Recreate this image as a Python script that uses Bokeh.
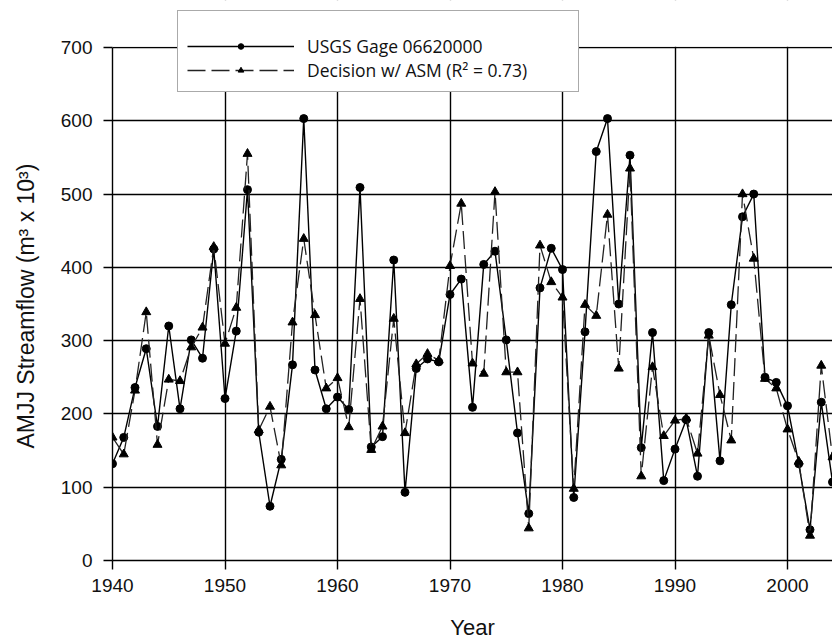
from bokeh.plotting import figure
from bokeh.models import (Range1d, Legend, LegendItem, SingleIntervalTicker,
                          ColumnDataSource, BoxAnnotation)
from bokeh.embed import file_html
from bokeh.resources import INLINE

years = list(range(1940, 2005))
observed = [132, 168, 236, 289, 183, 320, 207, 301, 276, 425,
            221, 313, 506, 175, 74, 138, 267, 603, 260, 207,
            223, 206, 509, 155, 169, 410, 93, 262, 275, 271,
            363, 384, 209, 404, 422, 301, 174, 64, 372, 426,
            397, 86, 312, 558, 603, 350, 553, 154, 311, 109,
            152, 192, 115, 311, 136, 349, 469, 500, 250, 243,
            211, 132, 42, 216, 107]
modeled = [168, 145, 232, 339, 158, 247, 245, 291, 318, 428,
           296, 345, 555, 178, 210, 130, 325, 439, 335, 235,
           249, 182, 357, 151, 183, 330, 174, 268, 282, 273,
           402, 487, 269, 255, 503, 257, 257, 44, 430, 380,
           359, 98, 349, 334, 472, 262, 535, 115, 264, 170,
           191, 194, 146, 307, 226, 164, 500, 412, 248, 235,
           179, 135, 34, 266, 141]
label_obs = "USGS Gage 06620000"
label_mod = "Decision w/ ASM (R\u00b2 = 0.73)"
y_max = 700

src = ColumnDataSource(dict(year=years, obs=observed, mod=modeled))

y_top = 560 * 700 / 513
p = figure(width=832, height=644, output_backend="svg", toolbar_location=None,
           x_range=Range1d(1940, 1940 + 720 / 11.25),
           y_range=Range1d(0, y_top),
           min_border_left=112, min_border_top=0, min_border_bottom=84, min_border_right=0)
p.outline_line_color = None
p.background_fill_color = "white"
p.border_fill_color = "white"

for ax in (p.xaxis[0], p.yaxis[0]):
    ax.axis_line_color = "black"
    ax.axis_line_width = 1.4
    ax.major_tick_line_color = "black"
    ax.major_tick_line_width = 1.4
    ax.major_tick_out = 9
    ax.major_tick_in = 0
    ax.minor_tick_line_color = None
    ax.major_label_text_font = "Liberation Sans"
    ax.major_label_text_font_size = "19px"
    ax.major_label_text_color = "#111111"
    ax.axis_label_text_font = "Liberation Sans"
    ax.axis_label_text_font_style = "normal"
    ax.axis_label_text_color = "#111111"

p.xaxis[0].axis_label_text_font_size = "22px"
p.yaxis[0].axis_label_text_font_size = "23px"
p.xaxis[0].ticker = SingleIntervalTicker(interval=10)
p.yaxis[0].ticker = SingleIntervalTicker(interval=100)
p.yaxis[0].bounds = (0, y_max)
p.xaxis[0].major_label_standoff = 9
p.yaxis[0].major_label_standoff = 11
p.xaxis[0].axis_label = "Year"
p.xaxis[0].axis_label_standoff = 20
# trailing no-break spaces centre the label on the 0-700 axis rather than the frame
p.yaxis[0].axis_label = "AMJJ Streamflow (m\u00b3 x 10\u00b3)" + "\u00a0" * 8
p.yaxis[0].axis_label_standoff = 19

p.xgrid[0].ticker = p.xaxis[0].ticker
p.ygrid[0].ticker = p.yaxis[0].ticker
for g in (p.xgrid[0], p.ygrid[0]):
    g.grid_line_color = "black"
    g.grid_line_width = 1.4
    g.grid_line_alpha = 1.0

l_obs = p.line("year", "obs", source=src, line_color="black", line_width=1.4)
m_obs = p.scatter("year", "obs", source=src, marker="circle", size=8,
                  fill_color="black", line_color="black")
l_mod = p.line("year", "mod", source=src, line_color="#222222", line_width=1.3,
               line_dash="18 6")
m_mod = p.scatter("year", "mod", source=src, marker="triangle", size=9,
                  fill_color="black", line_color="black")

# blank out the grid above the top of the axis
cover = BoxAnnotation(bottom=y_max + 1, top=y_top + 100, fill_color="white",
                      fill_alpha=1.0, line_color=None)
p.add_layout(cover)

legend = Legend(items=[LegendItem(label=label_obs, renderers=[l_obs, m_obs]),
                       LegendItem(label=label_mod, renderers=[l_mod, m_mod])],
                location=(65, 468), margin=0, padding=9, spacing=0,
                glyph_width=107, glyph_height=14, label_height=20, label_width=262,
                label_standoff=13,
                label_text_font="Open Sans", label_text_font_size="17.5px",
                label_text_color="#111111",
                border_line_color="#555555", border_line_width=1.2,
                background_fill_color="white", background_fill_alpha=1.0,
                title=" ", title_text_font_size="9px", title_standoff=4)
p.add_layout(legend, "center")

open("out.html", "w").write(file_html(p, INLINE))
